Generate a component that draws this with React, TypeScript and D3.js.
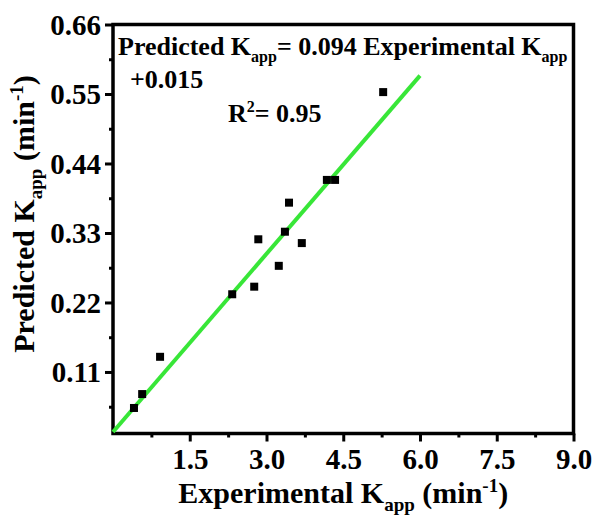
import React, { useEffect, useRef } from 'react';
import * as d3 from 'd3';

const expK = [0.41, 0.57, 0.92, 2.33, 2.76, 2.84, 3.24, 3.36, 3.44, 3.69, 4.18, 4.34, 5.28];
const predK = [0.053, 0.075, 0.134, 0.233, 0.245, 0.32, 0.278, 0.332, 0.378, 0.314, 0.414, 0.414, 0.553];
const xTicks = [1.5, 3.0, 4.5, 6.0, 7.5, 9.0];
const xMinor = [0.75, 2.25, 3.75, 5.25, 6.75, 8.25];
const yTicks = [0.11, 0.22, 0.33, 0.44, 0.55, 0.66];
const yMinor = [0.055, 0.165, 0.275, 0.385, 0.495, 0.605];
const fitX = [0, 6];
const slope = 0.094;
const intercept = 0.015;

function App() {
  const svgRef = useRef<SVGSVGElement>(null);

  useEffect(() => {
    const W = 595, H = 517;
    const m = { left: 113, right: 21.5, top: 24.5, bottom: 83.5 };
    const font = '"Liberation Serif", "Times New Roman", serif';

    const svg = d3.select(svgRef.current);
    svg.selectAll('*').remove();
    svg.attr('width', W).attr('height', H);

    const x = d3.scaleLinear().domain([0, 9]).range([m.left, W - m.right]);
    const y = d3.scaleLinear().domain([0.0126, 0.66]).range([H - m.bottom, m.top]);

    const g = svg.append('g');

    // axes, ticks pointing out
    const xAxis = g.append('g')
      .attr('transform', `translate(0,${H - m.bottom})`)
      .call(d3.axisBottom(x).tickValues(xTicks).tickSize(8).tickSizeOuter(0).tickPadding(4).tickFormat(d3.format('.1f')));
    g.append('g')
      .attr('transform', `translate(0,${H - m.bottom})`)
      .call(d3.axisBottom(x).tickValues(xMinor).tickSize(4).tickSizeOuter(0).tickFormat(() => ''));

    const yAxis = g.append('g')
      .attr('transform', `translate(${m.left},0)`)
      .call(d3.axisLeft(y).tickValues(yTicks).tickSize(8).tickSizeOuter(0).tickPadding(4).tickFormat(d3.format('.2f')));
    g.append('g')
      .attr('transform', `translate(${m.left},0)`)
      .call(d3.axisLeft(y).tickValues(yMinor).tickSize(4).tickSizeOuter(0).tickFormat(() => ''));

    g.selectAll('.tick line').attr('stroke', '#000').attr('stroke-width', 3);
    g.selectAll('.domain').remove();

    xAxis.selectAll('text')
      .style('font-family', font).style('font-weight', 'bold').style('font-size', '29px')
      .attr('fill', '#000').attr('dy', '0.8em');
    yAxis.selectAll('text')
      .style('font-family', font).style('font-weight', 'bold').style('font-size', '29px')
      .attr('fill', '#000').attr('dy', '0.34em');

    // frame
    g.append('rect')
      .attr('x', m.left).attr('y', m.top)
      .attr('width', W - m.left - m.right).attr('height', H - m.top - m.bottom)
      .attr('fill', 'none').attr('stroke', '#000').attr('stroke-width', 3.5);

    // linear fit
    const line = d3.line<number>().x(d => x(d)).y(d => y(slope * d + intercept));
    g.append('path')
      .datum(fitX)
      .attr('d', line)
      .attr('fill', 'none').attr('stroke', '#38e638').attr('stroke-width', 4);

    // points
    const sz = 8;
    g.selectAll('rect.pt')
      .data(expK.map((v, i) => [v, predK[i]]))
      .enter().append('rect')
      .attr('class', 'pt')
      .attr('x', d => x(d[0]) - sz / 2)
      .attr('y', d => y(d[1]) - sz / 2)
      .attr('width', sz).attr('height', sz)
      .attr('fill', '#000');

    // equation text
    const ann = g.append('text')
      .attr('x', 118).attr('y', 55)
      .style('font-family', font).style('font-weight', 'bold').style('font-size', '26px')
      .attr('fill', '#000');
    ann.append('tspan').text('Predicted K');
    ann.append('tspan').attr('dy', 7).style('font-size', '16px').text('app');
    ann.append('tspan').attr('dy', -7).text('= 0.094 Experimental K');
    ann.append('tspan').attr('dy', 7).style('font-size', '16px').text('app');

    g.append('text')
      .attr('x', 130).attr('y', 88)
      .style('font-family', font).style('font-weight', 'bold').style('font-size', '26px')
      .attr('fill', '#000').text('+0.015');

    const r2 = g.append('text')
      .attr('x', 228).attr('y', 122)
      .style('font-family', font).style('font-weight', 'bold').style('font-size', '26px')
      .attr('fill', '#000');
    r2.append('tspan').text('R');
    r2.append('tspan').attr('dy', -10).style('font-size', '16px').text('2');
    r2.append('tspan').attr('dy', 10).text('= 0.95');

    // axis titles
    const cx = (m.left + W - m.right) / 2;
    const xt = g.append('text')
      .attr('x', cx).attr('y', 503)
      .attr('text-anchor', 'middle')
      .style('font-family', font).style('font-weight', 'bold').style('font-size', '30px')
      .attr('fill', '#000');
    xt.append('tspan').text('Experimental K');
    xt.append('tspan').attr('dy', 8).style('font-size', '19px').text('app');
    xt.append('tspan').attr('dy', -8).text(' (min');
    xt.append('tspan').attr('dy', -11).style('font-size', '19px').text('-1');
    xt.append('tspan').attr('dy', 11).text(')');

    const yt = g.append('text')
      .attr('transform', `translate(34,${214}) rotate(-90)`)
      .attr('text-anchor', 'middle')
      .style('font-family', font).style('font-weight', 'bold').style('font-size', '30px')
      .attr('fill', '#000');
    yt.append('tspan').text('Predicted K');
    yt.append('tspan').attr('dy', 8).style('font-size', '19px').text('app');
    yt.append('tspan').attr('dy', -8).text(' (min');
    yt.append('tspan').attr('dy', -11).style('font-size', '19px').text('-1');
    yt.append('tspan').attr('dy', 11).text(')');
  }, []);

  return (
    <svg ref={svgRef} style={{ position: 'absolute', left: 0, top: 0, background: '#fff' }} />
  );
}

export default App;
